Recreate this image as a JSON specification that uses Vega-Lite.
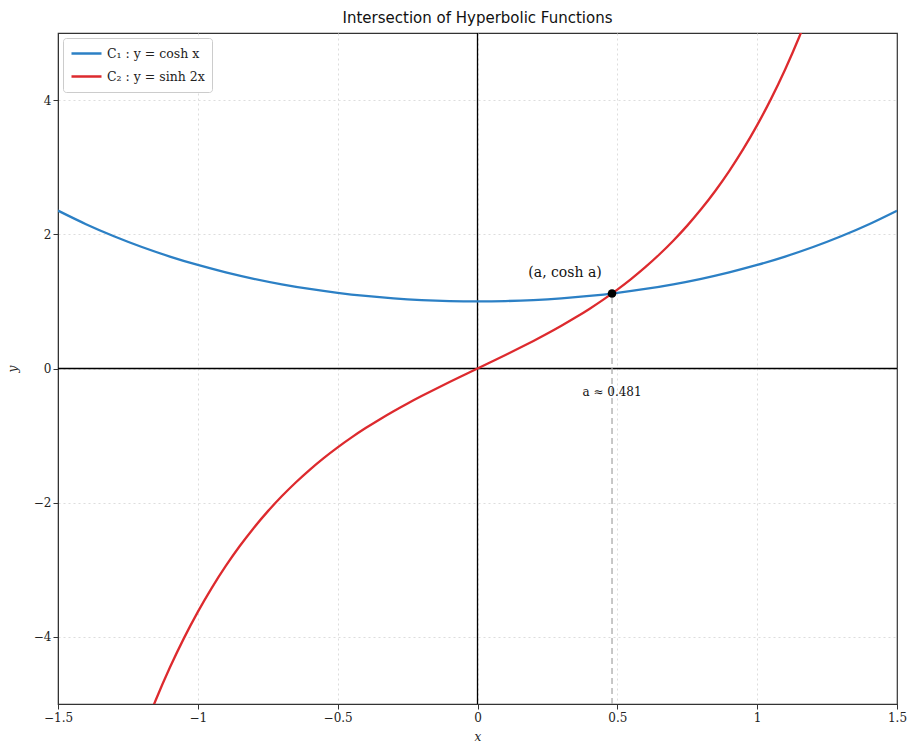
{
  "$schema": "https://vega.github.io/schema/vega-lite/v6.json",
  "autosize": {"type": "none"},
  "width": 839,
  "height": 671,
  "padding": {"left": 58, "top": 33, "right": 12, "bottom": 45},
  "background": "white",
  "title": {"text": "Intersection of Hyperbolic Functions", "font": "DejaVu Sans", "fontSize": 15, "fontWeight": "normal", "color": "#111", "offset": 6},
  "config": {
    "view": {"stroke": "#333", "strokeWidth": 1.2},
    "axis": {
      "labelFont": "DejaVu Serif", "labelFontSize": 12, "labelColor": "#222",
      "titleFont": "DejaVu Serif", "titleFontStyle": "italic", "titleFontWeight": "normal", "titleFontSize": 12, "titleColor": "#222",
      "domainColor": "#333", "tickColor": "#333", "tickSize": 5,
      "gridColor": "#dddddd", "gridDash": [2, 3], "gridWidth": 1
    }
  },
  "datasets": {
    "curves": [
      {"series": "cosh", "x": -1.5, "y": 2.3524}, {"series": "cosh", "x": -1.4, "y": 2.1509}, {"series": "cosh", "x": -1.3, "y": 1.9709},
      {"series": "cosh", "x": -1.2, "y": 1.8107}, {"series": "cosh", "x": -1.1, "y": 1.6685}, {"series": "cosh", "x": -1.0, "y": 1.5431},
      {"series": "cosh", "x": -0.9, "y": 1.4331}, {"series": "cosh", "x": -0.8, "y": 1.3374}, {"series": "cosh", "x": -0.7, "y": 1.2552},
      {"series": "cosh", "x": -0.6, "y": 1.1855}, {"series": "cosh", "x": -0.5, "y": 1.1276}, {"series": "cosh", "x": -0.4, "y": 1.0811},
      {"series": "cosh", "x": -0.3, "y": 1.0453}, {"series": "cosh", "x": -0.2, "y": 1.0201}, {"series": "cosh", "x": -0.1, "y": 1.0050},
      {"series": "cosh", "x": 0.0, "y": 1.0},
      {"series": "cosh", "x": 0.1, "y": 1.0050}, {"series": "cosh", "x": 0.2, "y": 1.0201}, {"series": "cosh", "x": 0.3, "y": 1.0453},
      {"series": "cosh", "x": 0.4, "y": 1.0811}, {"series": "cosh", "x": 0.5, "y": 1.1276}, {"series": "cosh", "x": 0.6, "y": 1.1855},
      {"series": "cosh", "x": 0.7, "y": 1.2552}, {"series": "cosh", "x": 0.8, "y": 1.3374}, {"series": "cosh", "x": 0.9, "y": 1.4331},
      {"series": "cosh", "x": 1.0, "y": 1.5431}, {"series": "cosh", "x": 1.1, "y": 1.6685}, {"series": "cosh", "x": 1.2, "y": 1.8107},
      {"series": "cosh", "x": 1.3, "y": 1.9709}, {"series": "cosh", "x": 1.4, "y": 2.1509}, {"series": "cosh", "x": 1.5, "y": 2.3524},
      {"series": "sinh", "x": -1.2, "y": -5.4662}, {"series": "sinh", "x": -1.15, "y": -4.9370}, {"series": "sinh", "x": -1.1, "y": -4.4571},
      {"series": "sinh", "x": -1.05, "y": -4.0219}, {"series": "sinh", "x": -1.0, "y": -3.6269}, {"series": "sinh", "x": -0.95, "y": -3.2682},
      {"series": "sinh", "x": -0.9, "y": -2.9422}, {"series": "sinh", "x": -0.85, "y": -2.6456}, {"series": "sinh", "x": -0.8, "y": -2.3756},
      {"series": "sinh", "x": -0.75, "y": -2.1293}, {"series": "sinh", "x": -0.7, "y": -1.9043}, {"series": "sinh", "x": -0.65, "y": -1.6984},
      {"series": "sinh", "x": -0.6, "y": -1.5095}, {"series": "sinh", "x": -0.55, "y": -1.3356}, {"series": "sinh", "x": -0.5, "y": -1.1752},
      {"series": "sinh", "x": -0.45, "y": -1.0265}, {"series": "sinh", "x": -0.4, "y": -0.8881}, {"series": "sinh", "x": -0.35, "y": -0.7586},
      {"series": "sinh", "x": -0.3, "y": -0.6367}, {"series": "sinh", "x": -0.25, "y": -0.5211}, {"series": "sinh", "x": -0.2, "y": -0.4108},
      {"series": "sinh", "x": -0.15, "y": -0.3045}, {"series": "sinh", "x": -0.1, "y": -0.2013}, {"series": "sinh", "x": -0.05, "y": -0.1002},
      {"series": "sinh", "x": 0.0, "y": 0.0},
      {"series": "sinh", "x": 0.05, "y": 0.1002}, {"series": "sinh", "x": 0.1, "y": 0.2013}, {"series": "sinh", "x": 0.15, "y": 0.3045},
      {"series": "sinh", "x": 0.2, "y": 0.4108}, {"series": "sinh", "x": 0.25, "y": 0.5211}, {"series": "sinh", "x": 0.3, "y": 0.6367},
      {"series": "sinh", "x": 0.35, "y": 0.7586}, {"series": "sinh", "x": 0.4, "y": 0.8881}, {"series": "sinh", "x": 0.45, "y": 1.0265},
      {"series": "sinh", "x": 0.5, "y": 1.1752}, {"series": "sinh", "x": 0.55, "y": 1.3356}, {"series": "sinh", "x": 0.6, "y": 1.5095},
      {"series": "sinh", "x": 0.65, "y": 1.6984}, {"series": "sinh", "x": 0.7, "y": 1.9043}, {"series": "sinh", "x": 0.75, "y": 2.1293},
      {"series": "sinh", "x": 0.8, "y": 2.3756}, {"series": "sinh", "x": 0.85, "y": 2.6456}, {"series": "sinh", "x": 0.9, "y": 2.9422},
      {"series": "sinh", "x": 0.95, "y": 3.2682}, {"series": "sinh", "x": 1.0, "y": 3.6269}, {"series": "sinh", "x": 1.05, "y": 4.0219},
      {"series": "sinh", "x": 1.1, "y": 4.4571}, {"series": "sinh", "x": 1.15, "y": 4.9370}, {"series": "sinh", "x": 1.2, "y": 5.4662}
    ],
    "point": [{"x": 0.481, "y": 1.1181, "ybase": -5}],
    "labels": [
      {"x": 0.313, "y": 1.42, "text": "(a, cosh a)", "size": 14},
      {"x": 0.481, "y": -0.35, "text": "a ≈ 0.481", "size": 12}
    ]
  },
  "layer": [
    {
      "data": {"values": [{"v": 0}]},
      "mark": {"type": "rule", "color": "#000", "strokeWidth": 1.3},
      "encoding": {"x": {"field": "v", "type": "quantitative", "scale": {"domain": [-1.5, 1.5]}}}
    },
    {
      "data": {"values": [{"v": 0}]},
      "mark": {"type": "rule", "color": "#000", "strokeWidth": 1.3},
      "encoding": {"y": {"field": "v", "type": "quantitative", "scale": {"domain": [-5, 5]}}}
    },
    {
      "data": {"name": "point"},
      "mark": {"type": "rule", "color": "#aaaaaa", "strokeWidth": 1.3, "strokeDash": [6, 4]},
      "encoding": {
        "x": {"field": "x", "type": "quantitative"},
        "y": {"field": "ybase", "type": "quantitative"},
        "y2": {"field": "y"}
      }
    },
    {
      "data": {"name": "curves"},
      "mark": {"type": "line", "strokeWidth": 2.3, "interpolate": "monotone", "clip": true},
      "encoding": {
        "x": {"field": "x", "type": "quantitative", "scale": {"domain": [-1.5, 1.5], "nice": false, "zero": false},
              "axis": {"title": "x", "values": [-1.5, -1, -0.5, 0, 0.5, 1, 1.5], "format": "~g", "grid": true, "labelFlush": false, "labelPadding": 3, "titlePadding": 8,
                       "gridOpacity": {"condition": {"test": "abs(datum.value) >= 1.5", "value": 0}, "value": 1}}},
        "y": {"field": "y", "type": "quantitative", "scale": {"domain": [-5, 5], "nice": false, "zero": false},
              "axis": {"title": "y", "values": [-4, -2, 0, 2, 4], "format": "~g", "grid": true, "titlePadding": 14}},
        "color": {
          "field": "series", "type": "nominal",
          "scale": {"domain": ["cosh", "sinh"], "range": ["#2c80c5", "#dd2a2e"]},
          "legend": {
            "orient": "top-left", "title": null, "offset": 5,
            "labelExpr": "datum.value == 'cosh' ? 'C₁ : y = cosh x' : 'C₂ : y = sinh 2x'",
            "symbolType": "stroke", "symbolSize": 900, "symbolStrokeWidth": 2.5, "clipHeight": 17,
            "labelFont": "DejaVu Serif", "labelFontSize": 12.5, "labelColor": "#222",
            "strokeColor": "#cccccc", "fillColor": "white", "padding": 7, "cornerRadius": 3, "rowPadding": 6
          }
        },
        "detail": {"field": "series"}
      }
    },
    {
      "data": {"name": "point"},
      "mark": {"type": "point", "filled": true, "color": "#000", "size": 75, "opacity": 1},
      "encoding": {
        "x": {"field": "x", "type": "quantitative"},
        "y": {"field": "y", "type": "quantitative"}
      }
    },
    {
      "data": {"name": "labels"},
      "mark": {"type": "text", "font": "DejaVu Serif", "color": "#111", "align": "center", "baseline": "middle"},
      "encoding": {
        "x": {"field": "x", "type": "quantitative"},
        "y": {"field": "y", "type": "quantitative"},
        "text": {"field": "text"},
        "size": {"field": "size", "type": "quantitative", "scale": null}
      }
    }
  ]
}
